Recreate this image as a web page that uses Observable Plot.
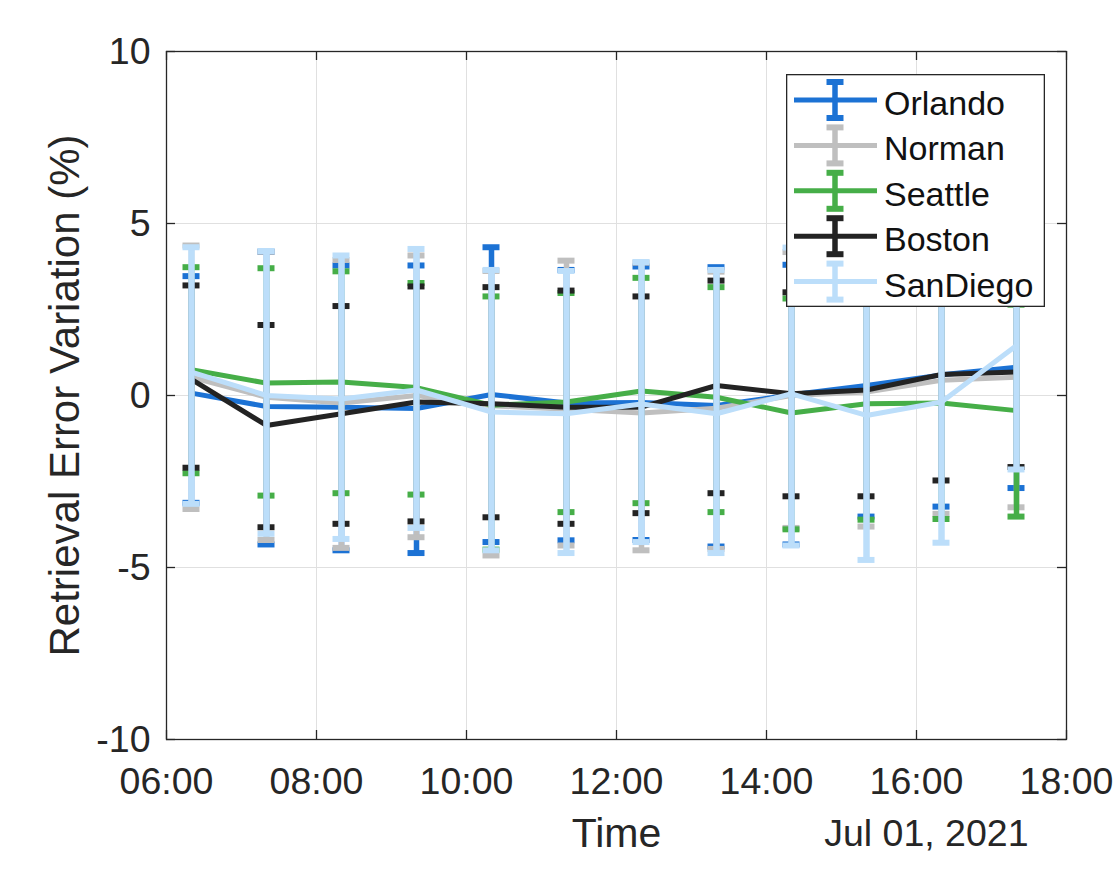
<!DOCTYPE html>
<html><head><meta charset="utf-8">
<script src="https://cdn.jsdelivr.net/npm/d3@7"></script>
<script src="https://cdn.jsdelivr.net/npm/@observablehq/plot@0.6"></script>
<style>
html,body{margin:0;padding:0;background:#fff;}
#wrap{position:relative;width:1117px;height:870px;font-family:"Liberation Sans",Arial,Helvetica,sans-serif;}
#legend{position:absolute;left:786px;top:74px;}
</style></head><body><div id="wrap"></div>
<script>
const day = "2021-07-01";
const times = ["06:20","07:20","08:20","09:20","10:20","11:20","12:20","13:20","14:20","15:20","16:20","17:20"];
const xTicks = ["06:00","08:00","10:00","12:00","14:00","16:00","18:00"];
const yTicks = [-10, -5, 0, 5, 10];
const cities = ["Orlando","Norman","Seattle","Boston","SanDiego"];
const colors = ["#1c72d4","#bfbfbf","#46ae48","#232323","#bcdefa"];
const xLabel = "Time";
const dateLabel = "Jul 01, 2021";
const yLabel = "Retrieval Error Variation (%)";

const orlandoMean = [0.07,-0.32,-0.34,-0.38,0.03,-0.22,-0.20,-0.29,0.02,0.29,0.60,0.82];
const orlandoHi   = [3.47,4.18,3.78,3.78,4.31,3.65,3.75,3.73,3.80,4.00,4.30,4.30];
const orlandoLo   = [-3.12,-4.33,-4.50,-4.58,-4.26,-4.21,-4.20,-4.39,-4.33,-3.52,-3.23,-2.69];

const normanMean = [0.53,-0.05,-0.22,0.00,-0.30,-0.40,-0.51,-0.37,0.00,0.10,0.44,0.53];
const normanHi   = [4.36,4.18,3.94,4.07,3.62,3.92,3.86,3.60,4.17,3.90,4.10,4.20];
const normanLo   = [-3.30,-4.20,-4.43,-4.12,-4.65,-4.36,-4.50,-4.46,-3.85,-3.81,-3.44,-3.25];

const seattleMean = [0.75,0.36,0.39,0.23,-0.28,-0.19,0.13,-0.05,-0.51,-0.24,-0.22,-0.44];
const seattleHi   = [3.73,3.70,3.61,3.27,2.88,2.98,3.42,3.15,2.82,3.10,3.10,2.64];
const seattleLo   = [-2.26,-2.91,-2.84,-2.88,-4.48,-3.39,-3.13,-3.39,-3.89,-3.61,-3.59,-3.52];

const bostonMean = [0.47,-0.87,-0.53,-0.19,-0.24,-0.34,-0.34,0.29,0.05,0.16,0.61,0.68];
const bostonHi   = [3.20,2.05,2.60,3.17,3.15,3.05,2.88,3.34,3.00,3.20,3.60,3.40];
const bostonLo   = [-2.10,-3.83,-3.73,-3.66,-3.54,-3.73,-3.42,-2.84,-2.93,-2.93,-2.47,-2.08];

const sandiegoMean = [0.68,0.00,-0.10,0.16,-0.48,-0.53,-0.25,-0.53,0.05,-0.58,-0.19,1.45];
const sandiegoHi   = [4.31,4.20,4.07,4.26,3.65,3.62,3.88,3.65,4.30,3.60,3.90,5.00];
const sandiegoLo   = [-3.15,-4.02,-4.17,-3.85,-4.50,-4.58,-4.26,-4.58,-4.36,-4.78,-4.28,-2.15];

const seriesList = [
  [orlandoMean, orlandoLo, orlandoHi],
  [normanMean, normanLo, normanHi],
  [seattleMean, seattleLo, seattleHi],
  [bostonMean, bostonLo, bostonHi],
  [sandiegoMean, sandiegoLo, sandiegoHi]
];

const parseT = s => new Date(`${day}T${s}:00Z`);
const capHalf = 6.8 * 60000;
const fontFamily = '"Liberation Sans", Arial, Helvetica, sans-serif';
const lineW = 5, barW = 5.5, capW = 6;

const marks = [];
// grid
marks.push(Plot.ruleX(xTicks.map(parseT), {stroke: "#e0e0e0", strokeWidth: 1}));
marks.push(Plot.ruleY(yTicks, {stroke: "#e0e0e0", strokeWidth: 1}));

cities.forEach((c, i) => {
  const [m, lo, hi] = seriesList[i];
  const rows = times.map((t, j) => ({t: parseT(t), mean: m[j], lo: lo[j], hi: hi[j]}));
  const col = colors[i];
  // the last-drawn bar is a touch wider so antialiased edges of bars beneath do not show
  const bw = i === cities.length - 1 ? barW + 1 : barW;
  marks.push(Plot.line(rows, {x: "t", y: "mean", stroke: col, strokeWidth: lineW, strokeLinejoin: "round"}));
  marks.push(Plot.ruleX(rows, {x: "t", y1: "lo", y2: "hi", stroke: col, strokeWidth: bw, shapeRendering: "auto"}));
  marks.push(Plot.ruleY(rows, {y: "lo", x1: d => new Date(+d.t - capHalf), x2: d => new Date(+d.t + capHalf), stroke: col, strokeWidth: capW, shapeRendering: "auto"}));
  marks.push(Plot.ruleY(rows, {y: "hi", x1: d => new Date(+d.t - capHalf), x2: d => new Date(+d.t + capHalf), stroke: col, strokeWidth: capW, shapeRendering: "auto"}));
});

// inward ticks
const frameH = 870 - 51 - 131, frameW = 1117 - 166 - 51, tl = 9;
marks.push(Plot.tickX(xTicks.map(parseT), {x: d => d, insetTop: frameH - tl, stroke: "#262626", strokeWidth: 1.3}));
marks.push(Plot.tickX(xTicks.map(parseT), {x: d => d, insetBottom: frameH - tl, stroke: "#262626", strokeWidth: 1.3}));
marks.push(Plot.tickY(yTicks, {y: d => d, insetRight: frameW - tl, stroke: "#262626", strokeWidth: 1.3}));
marks.push(Plot.tickY(yTicks, {y: d => d, insetLeft: frameW - tl, stroke: "#262626", strokeWidth: 1.3}));
marks.push(Plot.frame({stroke: "#262626", strokeWidth: 1.3}));

// axes
marks.push(Plot.axisX({ticks: xTicks.map(parseT), tickFormat: d3.utcFormat("%H:%M"), tickSize: 0, tickPadding: 28, fontSize: 37.5, fill: "#262626", label: null}));
marks.push(Plot.axisY({ticks: yTicks, tickFormat: d => String(d), tickSize: 0, tickPadding: 16, fontSize: 37.5, fill: "#262626", label: null}));

// axis titles
marks.push(Plot.text([xLabel], {text: d => d, frameAnchor: "bottom", dy: 94, fontSize: 41, fill: "#262626", textAnchor: "middle", lineAnchor: "middle"}));
marks.push(Plot.text([dateLabel], {text: d => d, frameAnchor: "bottom-right", dx: -38, dy: 94, fontSize: 37.5, fill: "#262626", textAnchor: "end", lineAnchor: "middle"}));
marks.push(Plot.text([yLabel], {text: d => d, frameAnchor: "left", dx: -101, rotate: -90, fontSize: 42, fill: "#262626", textAnchor: "middle", lineAnchor: "middle"}));

const chart = Plot.plot({
  width: 1117, height: 870,
  marginLeft: 166, marginRight: 51, marginTop: 51, marginBottom: 131,
  x: {type: "utc", domain: [parseT(xTicks[0]), parseT(xTicks[xTicks.length - 1])], axis: null},
  y: {domain: [yTicks[0], yTicks[yTicks.length - 1]], axis: null},
  style: {fontFamily, background: "white", overflow: "visible"},
  marks
});
const wrap = document.getElementById("wrap");
wrap.appendChild(chart);

// legend overlay
const lw = 259, lh = 233, rowY0 = 26, rowStep = 45.4;
const leg = d3.select(wrap).append("svg").attr("id", "legend").attr("width", lw).attr("height", lh);
leg.append("rect").attr("x", 0.65).attr("y", 0.65).attr("width", lw - 1.3).attr("height", lh - 1.3)
  .attr("fill", "white").attr("stroke", "#262626").attr("stroke-width", 1.3);
cities.forEach((c, i) => {
  const y = rowY0 + i * rowStep;
  const g = leg.append("g").attr("stroke", colors[i]).attr("stroke-width", lineW);
  g.append("line").attr("x1", 8).attr("x2", 91).attr("y1", y).attr("y2", y);
  g.append("line").attr("x1", 49).attr("x2", 49).attr("y1", y - 18).attr("y2", y + 18).attr("stroke-width", barW);
  g.append("line").attr("x1", 40.5).attr("x2", 57.5).attr("y1", y - 18).attr("y2", y - 18).attr("stroke-width", capW);
  g.append("line").attr("x1", 40.5).attr("x2", 57.5).attr("y1", y + 18).attr("y2", y + 18).attr("stroke-width", capW);
  leg.append("text").attr("x", 98).attr("y", y + 15).attr("font-size", 34).attr("fill", "#111")
    .attr("font-family", fontFamily).text(c);
});
</script></body></html>
